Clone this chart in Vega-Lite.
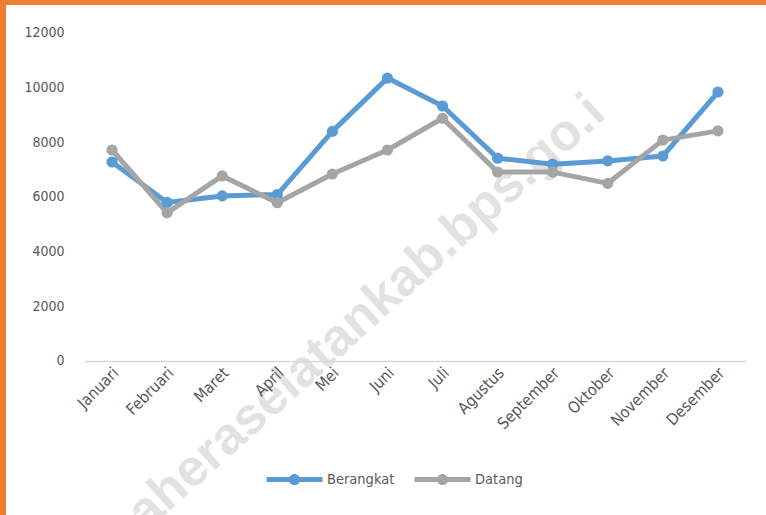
{
  "$schema": "https://vega.github.io/schema/vega-lite/v6.json",
  "width": 760,
  "height": 510,
  "autosize": {"type": "none"},
  "padding": {"left": 6, "top": 5, "right": 0, "bottom": 0},
  "background": "#ED7D31",
  "config": {
    "view": {"fill": "white", "stroke": null},
    "axis": {"labelFont": "DejaVu Sans Condensed", "labelColor": "#595959", "grid": false, "ticks": false, "title": null}
  },
  "data": {
    "values": [
      {"month": "Januari", "series": "Berangkat", "value": 7280},
      {"month": "Februari", "series": "Berangkat", "value": 5800},
      {"month": "Maret", "series": "Berangkat", "value": 6040},
      {"month": "April", "series": "Berangkat", "value": 6090},
      {"month": "Mei", "series": "Berangkat", "value": 8400},
      {"month": "Juni", "series": "Berangkat", "value": 10350},
      {"month": "Juli", "series": "Berangkat", "value": 9330},
      {"month": "Agustus", "series": "Berangkat", "value": 7420},
      {"month": "September", "series": "Berangkat", "value": 7200},
      {"month": "Oktober", "series": "Berangkat", "value": 7320},
      {"month": "November", "series": "Berangkat", "value": 7500},
      {"month": "Desember", "series": "Berangkat", "value": 9840},
      {"month": "Januari", "series": "Datang", "value": 7720},
      {"month": "Februari", "series": "Datang", "value": 5420},
      {"month": "Maret", "series": "Datang", "value": 6770},
      {"month": "April", "series": "Datang", "value": 5790},
      {"month": "Mei", "series": "Datang", "value": 6840},
      {"month": "Juni", "series": "Datang", "value": 7720},
      {"month": "Juli", "series": "Datang", "value": 8880},
      {"month": "Agustus", "series": "Datang", "value": 6910},
      {"month": "September", "series": "Datang", "value": 6910},
      {"month": "Oktober", "series": "Datang", "value": 6500},
      {"month": "November", "series": "Datang", "value": 8080},
      {"month": "Desember", "series": "Datang", "value": 8420}
    ]
  },
  "layer": [
    {
      "data": {"values": [{}]},
      "mark": {"type": "text", "text": "halmaheraselatankab.bps.go.i", "font": "Liberation Sans", "fontWeight": "bold", "fontSize": 52, "color": "#9a9a9a", "opacity": 0.28, "angle": -42, "align": "right", "baseline": "alphabetic"},
      "encoding": {
        "x": {"datum": "Oktober"},
        "y": {"datum": 8950}
      }
    },
    {
      "mark": {"type": "line", "strokeWidth": 5, "strokeJoin": "round", "strokeCap": "round", "point": {"filled": true, "size": 125, "opacity": 1}},
      "encoding": {
        "x": {
          "field": "month", "type": "nominal",
          "sort": ["Januari", "Februari", "Maret", "April", "Mei", "Juni", "Juli", "Agustus", "September", "Oktober", "November", "Desember"],
          "scale": {"type": "band", "range": [78.5, 739.5], "paddingInner": 0, "paddingOuter": 0},
          "axis": {"zindex": 2, "offset": -154, "domain": true, "domainColor": "#d9d9d9", "domainWidth": 1.5, "labelAngle": -45, "labelAlign": "right", "labelBaseline": "middle", "labelPadding": 9, "labelOffset": 4, "labelFontSize": 16}
        },
        "y": {
          "field": "value", "type": "quantitative",
          "scale": {"domain": [-5634, 13024], "nice": false, "zero": false},
          "axis": {"zindex": 2, "offset": -58, "domain": false, "values": [0, 2000, 4000, 6000, 8000, 10000, 12000], "format": "d", "labelPadding": 0, "labelFontSize": 14}
        },
        "color": {
          "field": "series", "type": "nominal",
          "scale": {"domain": ["Berangkat", "Datang"], "range": ["#5B9BD5", "#A5A5A5"]},
          "legend": {
            "title": null, "orient": "none", "direction": "horizontal", "legendX": 279, "legendY": 465, "padding": 0,
            "symbolType": "M -3 -0.27 L 3 -0.27 L 3 0.27 L -3 0.27 Z M -0.6 0 A 0.6 0.6 0 1 1 0.6 0 A 0.6 0.6 0 1 1 -0.6 0 Z",
            "symbolSize": 348, "symbolStrokeWidth": 0, "labelOffset": 23, "columnPadding": 19,
            "labelFont": "DejaVu Sans Condensed", "labelFontSize": 14.5, "labelColor": "#595959",
            "encode": {"symbols": {"update": {"fill": {"scale": "color", "field": "value"}, "opacity": {"value": 1}}}}
          }
        }
      }
    }
  ]
}
